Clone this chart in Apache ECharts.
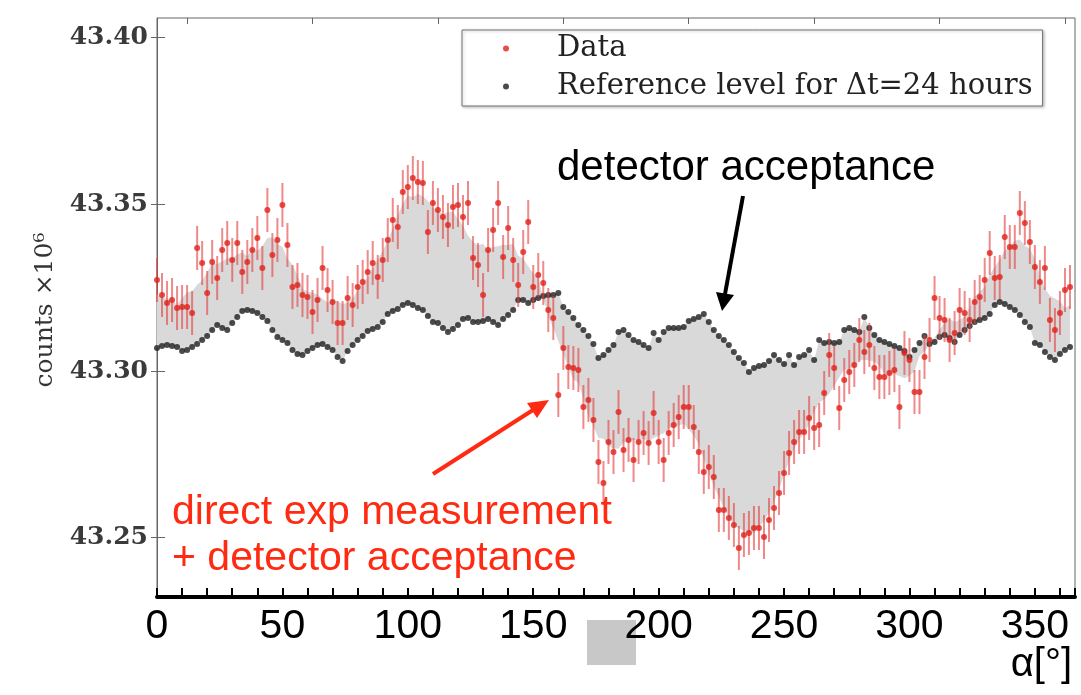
<!DOCTYPE html>
<html>
<head>
<meta charset="utf-8">
<script src="https://cdn.jsdelivr.net/npm/echarts@6/dist/echarts.min.js"></script>
<style>html,body{margin:0;padding:0;background:#fff;}#c{width:1081px;height:695px;}</style>
</head>
<body>
<div id="c"></div>
<script>
// ---- data (angle in degrees, counts in units of 10^6) ----
const angles = [0,2,4,6,8,10,12,14,16,18,20,22,24,26,28,30,32,34,36,38,40,42,44,46,48,50,52,54,56,58,60,62,64,66,68,70,72,74,76,78,80,82,84,86,88,90,92,94,96,98,100,102,104,106,108,110,112,114,116,118,120,122,124,126,128,130,132,134,136,138,140,142,144,146,148,150,152,154,156,158,160,162,164,166,168,170,172,174,176,178,180,182,184,186,188,190,192,194,196,198,200,202,204,206,208,210,212,214,216,218,220,222,224,226,228,230,232,234,236,238,240,242,244,246,248,250,252,254,256,258,260,262,264,266,268,270,272,274,276,278,280,282,284,286,288,290,292,294,296,298,300,302,304,306,308,310,312,314,316,318,320,322,324,326,328,330,332,334,336,338,340,342,344,346,348,350,352,354,356,358,360,362,364];

const dataValues = [43.3273,43.3228,43.3204,43.3213,43.3189,43.3192,43.3192,43.3174,43.3369,43.3324,43.3234,43.3327,43.3279,43.3363,43.3384,43.3333,43.3384,43.3297,43.3327,43.3363,43.3399,43.3309,43.3483,43.3348,43.3393,43.3498,43.3378,43.3252,43.3258,43.3228,43.3222,43.3177,43.3213,43.3309,43.3243,43.3207,43.3144,43.3144,43.3219,43.3198,43.3252,43.3267,43.3297,43.3324,43.3282,43.3333,43.3393,43.3453,43.3432,43.3537,43.3552,43.3579,43.3567,43.3564,43.3417,43.3504,43.3483,43.3462,43.3438,43.3492,43.3498,43.3462,43.3504,43.3339,43.3318,43.3228,43.3363,43.3423,43.3504,43.3342,43.3429,43.3333,43.3258,43.3357,43.3447,43.3252,43.3288,43.3264,43.3183,43.3159,43.2928,43.3069,43.3012,43.3009,43.3003,43.2892,43.2913,43.2853,43.2727,43.2664,43.2787,43.2757,43.2877,43.2763,43.2793,43.2733,43.2787,43.2814,43.2784,43.2874,43.2787,43.2733,43.2814,43.2838,43.2862,43.2892,43.2892,43.2832,43.2757,43.2697,43.2712,43.2682,43.2583,43.2583,43.2559,43.2538,43.2469,43.2508,43.2514,43.2529,43.2529,43.2502,43.2553,43.2589,43.2634,43.2694,43.2754,43.2787,43.2817,43.2817,43.2859,43.2829,43.2838,43.2934,43.3048,43.3009,43.2889,43.2973,43.2997,43.3018,43.3093,43.3057,43.3078,43.3009,43.2982,43.2982,43.2994,43.3003,43.2892,43.3054,43.3033,43.2937,43.2937,43.3042,43.3093,43.3219,43.3159,43.3153,43.3093,43.3114,43.3183,43.3174,43.3153,43.3207,43.3222,43.3273,43.3354,43.3279,43.3282,43.3402,43.3372,43.3372,43.3474,43.3444,43.3387,43.3312,43.3267,43.3309,43.3153,43.3123,43.3174,43.3243,43.3252];

const refValues = [43.3069,43.3075,43.3078,43.3075,43.3072,43.3060,43.3063,43.3072,43.3081,43.3093,43.3105,43.3123,43.3138,43.3129,43.3123,43.3144,43.3162,43.3180,43.3183,43.3180,43.3174,43.3162,43.3150,43.3123,43.3102,43.3093,43.3084,43.3063,43.3051,43.3048,43.3060,43.3069,43.3078,43.3081,43.3072,43.3063,43.3042,43.3030,43.3060,43.3078,43.3093,43.3105,43.3120,43.3126,43.3132,43.3147,43.3171,43.3180,43.3186,43.3198,43.3204,43.3198,43.3189,43.3183,43.3165,43.3147,43.3144,43.3129,43.3117,43.3126,43.3138,43.3156,43.3159,43.3147,43.3147,43.3150,43.3156,43.3147,43.3138,43.3156,43.3168,43.3183,43.3213,43.3213,43.3204,43.3213,43.3219,43.3225,43.3228,43.3228,43.3234,43.3192,43.3177,43.3159,43.3138,43.3123,43.3105,43.3081,43.3039,43.3048,43.3063,43.3078,43.3117,43.3123,43.3108,43.3093,43.3087,43.3078,43.3069,43.3114,43.3093,43.3117,43.3129,43.3129,43.3129,43.3132,43.3150,43.3156,43.3162,43.3171,43.3147,43.3123,43.3105,43.3093,43.3078,43.3057,43.3039,43.3024,43.2997,43.3009,43.3015,43.3018,43.3030,43.3048,43.3033,43.3021,43.3048,43.3018,43.3042,43.3048,43.3063,43.3033,43.3093,43.3084,43.3087,43.3084,43.3087,43.3123,43.3129,43.3123,43.3117,43.3162,43.3129,43.3108,43.3093,43.3087,43.3081,43.3075,43.3069,43.3060,43.3042,43.3063,43.3084,43.3105,43.3081,43.3087,43.3102,43.3108,43.3099,43.3087,43.3108,43.3123,43.3135,43.3147,43.3153,43.3159,43.3171,43.3198,43.3207,43.3201,43.3192,43.3183,43.3168,43.3147,43.3132,43.3084,43.3078,43.3057,43.3042,43.3033,43.3051,43.3063,43.3072];

const errorHalf = 0.0066;
const yTickLabels = [43.25, 43.30, 43.35, 43.40];
const xTickLabels = [0, 50, 100, 150, 200, 250, 300, 350];
const topTicks = [12, 62, 112, 162, 212, 262, 312, 362];
const seriesNames = ['Data', 'Reference level for \u0394t=24 hours'];

// smoothed data used as the upper edge of the grey band
const smoothData = dataValues.map((v, i) => {
  let s = 0, n = 0;
  for (let j = i - 3; j <= i + 3; j++) {
    if (j >= 0 && j < dataValues.length) { s += dataValues[j]; n++; }
  }
  return s / n;
});

const chart = echarts.init(document.getElementById('c'), null, {renderer: 'canvas'});
const yMin = 43.2322, yMax = 43.4059;

const option = {
  animation: false,
  backgroundColor: '#fff',
  grid: {left: 157, right: 6, top: 18, bottom: 98, show: true, borderColor: '#666', borderWidth: 1},
  legend: {
    orient: 'vertical', left: 462, top: 30,
    padding: [4, 10, 5, 41], itemGap: 9,
    borderColor: '#777', borderWidth: 1, backgroundColor: '#fff',
    shadowColor: 'rgba(0,0,0,0.25)', shadowBlur: 3, shadowOffsetX: 1, shadowOffsetY: 1,
    icon: 'circle', itemWidth: 6, itemHeight: 6,
    data: seriesNames,
    textStyle: {fontFamily: 'DejaVu Serif', fontSize: 29, color: '#222', lineHeight: 29, padding: [0, 0, 0, 43]}
  },
  xAxis: [{
    type: 'value', min: 0, max: 366, interval: 10,
    axisLine: {show: true, lineStyle: {color: '#000', width: 4}},
    axisTick: {show: true, inside: true, length: 9, lineStyle: {color: '#000', width: 2}},
    axisLabel: {customValues: xTickLabels, fontFamily: 'Liberation Sans', fontSize: 41, color: '#000', margin: 9},
    splitLine: {show: false}
  }, {
    type: 'value', position: 'top', min: 0, max: 366,
    axisLine: {show: false},
    axisTick: {show: true, inside: true, length: 6, customValues: topTicks, lineStyle: {color: '#666'}},
    axisLabel: {show: false}, splitLine: {show: false}
  }],
  yAxis: [{
    type: 'value', min: yMin, max: yMax,
    axisLine: {show: true, lineStyle: {color: '#666', width: 1}},
    axisTick: {show: true, inside: true, length: 8, customValues: yTickLabels, lineStyle: {color: '#666'}},
    axisLabel: {customValues: yTickLabels, formatter: v => v.toFixed(2), fontFamily: 'DejaVu Serif', fontWeight: 'bold', fontSize: 25, color: '#3a3a3a', margin: 9},
    splitLine: {show: false}
  }, {
    type: 'value', position: 'right', min: yMin, max: yMax,
    axisLine: {show: false},
    axisTick: {show: true, inside: true, length: 6, customValues: yTickLabels, lineStyle: {color: '#666'}},
    axisLabel: {show: false}, splitLine: {show: false}
  }],
  series: [
    {
      type: 'custom', name: 'band', silent: true, z: 1,
      data: [[angles[0], refValues[0]]],
      renderItem: function (params, api) {
        if (params.dataIndex !== 0) return;
        const pts = [];
        for (let i = 0; i < angles.length; i++) pts.push(api.coord([angles[i], smoothData[i]]));
        for (let i = angles.length - 1; i >= 0; i--) pts.push(api.coord([angles[i], refValues[i]]));
        return {type: 'polygon', shape: {points: pts}, style: {fill: '#d9d9d9', stroke: null}};
      }
    },
    {
      type: 'scatter', name: seriesNames[1], z: 3,
      data: angles.map((a, i) => [a, refValues[i]]),
      symbol: 'circle', symbolSize: 6,
      itemStyle: {color: '#1e1e1e'}
    },
    {
      type: 'custom', name: 'errors', silent: true, z: 4,
      data: angles.map((a, i) => [a, dataValues[i] - errorHalf, dataValues[i] + errorHalf]),
      encode: {x: 0, y: [1, 2]},
      renderItem: function (params, api) {
        const x = api.value(0);
        const p1 = api.coord([x, api.value(1)]);
        const p2 = api.coord([x, api.value(2)]);
        return {type: 'line', shape: {x1: p1[0], y1: p1[1], x2: p2[0], y2: p2[1]},
          style: {stroke: 'rgba(228,60,60,0.6)', lineWidth: 2}};
      }
    },
    {
      type: 'scatter', name: seriesNames[0], z: 5,
      data: angles.map((a, i) => [a, dataValues[i]]),
      symbol: 'circle', symbolSize: 6,
      itemStyle: {color: '#e0231c'}
    }
  ],
  graphic: [
    {type: 'text', x: 45, y: 310, rotation: Math.PI / 2,
      style: {text: 'counts \u00d710\u2076', fontFamily: 'DejaVu Serif', fontSize: 25, fill: '#333', align: 'center', verticalAlign: 'middle'}},
    {type: 'text', x: 1072, y: 665,
      style: {text: '\u03b1[\u00b0]', fontFamily: 'Liberation Sans', fontSize: 40, fill: '#000', align: 'right', verticalAlign: 'middle'}},
    {type: 'rect', shape: {x: 587, y: 620, width: 49, height: 45}, style: {fill: '#c8c8c8'}},
    {type: 'text', x: 557, y: 168, z: 10,
      style: {text: 'detector acceptance', fontFamily: 'Liberation Sans', fontSize: 42, fill: '#000', align: 'left', verticalAlign: 'middle'}},
    {type: 'text', x: 172, y: 513, z: 10,
      style: {text: 'direct exp measurement', fontFamily: 'Liberation Sans', fontSize: 41, fill: '#ff2a12', align: 'left', verticalAlign: 'middle'}},
    {type: 'text', x: 172, y: 559, z: 10,
      style: {text: '+ detector acceptance', fontFamily: 'Liberation Sans', fontSize: 41, fill: '#ff2a12', align: 'left', verticalAlign: 'middle'}},
    {type: 'line', z: 10, shape: {x1: 743, y1: 196, x2: 725, y2: 294}, style: {stroke: '#000', lineWidth: 4}},
    {type: 'polygon', z: 10, shape: {points: [[722, 311], [734, 295], [716, 292]]}, style: {fill: '#000'}},
    {type: 'line', z: 10, shape: {x1: 433, y1: 474, x2: 533, y2: 410}, style: {stroke: '#ff2a12', lineWidth: 4}},
    {type: 'polygon', z: 10, shape: {points: [[549, 400], [537, 418], [527, 403]]}, style: {fill: '#ff2a12'}}
  ]
};
chart.setOption(option);
</script>
</body>
</html>
